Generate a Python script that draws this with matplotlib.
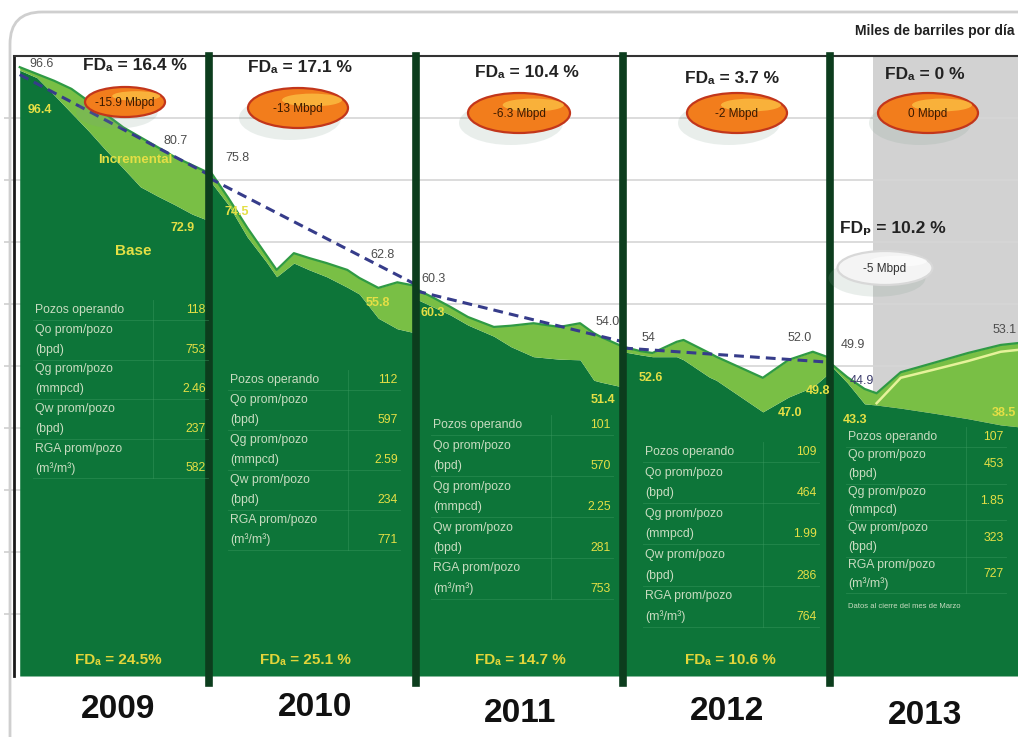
import matplotlib
matplotlib.use("Agg")
import matplotlib.pyplot as plt
import numpy as np
from matplotlib.patches import Ellipse, FancyBboxPatch

plt.rcParams['font.family'] = ['Liberation Sans', 'DejaVu Sans']

# ---- data (x in months from Jan-2009, y in miles de barriles por día) ----
YEARS = ["2009", "2010", "2011", "2012", "2013"]
YEAR_EDGES = [12, 24, 36, 48]

X_2009 = [1, 2, 3, 4, 5, 6, 7, 8, 9, 10, 11, 12]
TOP_2009 = [98.2, 97.1, 96.0, 94.7, 92.7, 90.6, 88.5, 86.9, 85.3, 83.7, 82.4, 81.1]
BASE_2009 = [97.7, 96.5, 93.7, 90.8, 87.9, 84.8, 81.9, 78.9, 77.4, 76.0, 74.5, 73.4]

X_2010 = [12.0, 13.1, 14.2, 15.3, 15.9, 16.9, 17.8, 18.8, 20.0, 20.7, 21.8, 22.9, 24.0]
TOP_2010 = [81.6, 77.1, 72.3, 67.9, 65.5, 68.2, 67.4, 66.6, 65.5, 64.2, 62.6, 63.5, 62.9]
BASE_2010 = [80.0, 76.0, 70.8, 66.8, 64.4, 66.6, 65.5, 64.4, 62.7, 61.6, 57.7, 56.0, 55.3]

X_2011 = [24, 25, 26, 27, 28.5, 29.5, 30.8, 32.3, 33.5, 34.3, 34.7, 36]
TOP_2011 = [62.4, 61.0, 59.5, 57.9, 56.3, 56.5, 56.9, 56.3, 56.9, 55.3, 54.7, 53.1]
BASE_2011 = [60.8, 59.5, 58.2, 56.6, 54.8, 53.1, 51.5, 51.1, 51.0, 47.7, 47.4, 46.6]

X_2012 = [36, 37, 37.7, 39.1, 39.5, 41.0, 41.4, 44.1, 45.6, 47.0, 48.0]
TOP_2012 = [53.1, 52.4, 52.1, 53.9, 54.2, 52.1, 51.5, 48.1, 51.0, 52.3, 51.3]
BASE_2012 = [52.3, 51.8, 51.5, 51.5, 51.0, 48.2, 47.7, 42.6, 45.0, 46.6, 49.0]

X_2013 = [48.0, 49.0, 50.0, 50.7, 52.1, 54.0, 56.0, 57.9, 58.9]
TOP_2013 = [50.5, 48.2, 46.3, 45.6, 49.0, 50.5, 52.1, 53.4, 53.7]
BASE_2013 = [50.2, 47.3, 43.9, 43.7, 43.2, 42.4, 41.5, 40.5, 40.2]
X_PROG_2013 = [50.7, 52.1, 54.0, 56.0, 57.9, 58.9]
PROG_2013 = [44.0, 48.1, 49.4, 50.8, 52.3, 52.6]

# trend (dashed) start/end per year
TREND_X = [[1, 12], [12, 24], [24, 36], [36, 48]]
TREND_Y = [[97.0, 80.8], [80.3, 63.1], [62.1, 53.9], [52.9, 50.6]]
FORECAST_START = 50.5

FD_TOP = ["FDₐ = 16.4 %", "FDₐ = 17.1 %", "FDₐ = 10.4 %", "FDₐ = 3.7 %", "FDₐ = 0 %"]
MBPD = ["-15.9 Mbpd", "-13 Mbpd", "-6.3 Mbpd", "-2 Mbpd", "0 Mbpd"]
FD_BOTTOM = ["FDₐ = 24.5%", "FDₐ = 25.1 %", "FDₐ = 14.7 %", "FDₐ = 10.6 %"]

ROW_LABELS = ["Pozos operando", "Qo prom/pozo", "(bpd)", "Qg prom/pozo", "(mmpcd)",
              "Qw prom/pozo", "(bpd)", "RGA prom/pozo", "(m³/m³)"]
TABLE_VALUES = [["118", "753", "2.46", "237", "582"],
                ["112", "597", "2.59", "234", "771"],
                ["101", "570", "2.25", "281", "753"],
                ["109", "464", "1.99", "286", "764"],
                ["107", "453", "1.85", "323", "727"]]

DARK = "#0d7539"
LIGHT = "#79bf45"
EDGE = "#2f9a44"
YEL = "#e4df45"
GREYTXT = "#4d4d4d"

fig = plt.figure(figsize=(10.18, 7.37), dpi=100)
ax = fig.add_axes([14 / 1018, 61 / 737, 1004 / 1018, 620 / 737])
ax.set_xlim(0.668, 58.9)
ax.set_ylim(0, 100)
ax.set_axisbelow(True)
ax.grid(axis="y", color="#d6d6d6", lw=1.2)
ax.set_yticks(np.arange(10, 100, 10))
ax.tick_params(axis="y", direction="out", length=7, color="#cfcfcf", width=1.2, labelleft=False)
ax.set_xticks([])
for s in ["right", "bottom"]:
    ax.spines[s].set_visible(False)
ax.spines["top"].set_color("#333333"); ax.spines["top"].set_linewidth(1.5)
ax.spines["left"].set_color("#1a1a1a"); ax.spines["left"].set_linewidth(2)

ax.axvspan(FORECAST_START, 60, color="#d2d2d2", zorder=0.2, lw=0)

series = [(X_2009, BASE_2009, TOP_2009), (X_2010, BASE_2010, TOP_2010),
          (X_2011, BASE_2011, TOP_2011), (X_2012, BASE_2012, TOP_2012),
          (X_2013, BASE_2013, TOP_2013)]
for xs, base, top in series:
    ax.fill_between(xs, 0, base, color=DARK, lw=0, zorder=2)
    ax.fill_between(xs, base, top, color=LIGHT, lw=0, zorder=2)
    ax.plot(xs, top, color=EDGE, lw=1.6, zorder=3)
ax.plot(X_PROG_2013, PROG_2013, color="#e6f29a", lw=1.8, zorder=3)

for tx, ty in zip(TREND_X, TREND_Y):
    ax.plot(tx, ty, color="#363c8a", lw=2.2, dashes=(3.2, 2.0), zorder=4)

for e in YEAR_EDGES:
    ax.axvline(e, ymin=-0.012, ymax=1.0, color="#0c3d1d", lw=5.5, zorder=5, clip_on=False)

# ---- overlay in pixel coordinates for annotations ----
ov = fig.add_axes([0, 0, 1, 1])
ov.set_xlim(0, 1018); ov.set_ylim(737, 0); ov.axis("off")

ov.add_patch(FancyBboxPatch((10, 12), 1100, 800, boxstyle="round,pad=0,rounding_size=32",
                            fc="none", ec="#cfcfcf", lw=2))
ov.text(1015, 31, "Miles de barriles por día", ha="right", va="center",
        fontsize=10, fontweight="bold", color="#222222")


def pill(cx, cy, w, h, text, face, edge, hi, tc):
    ov.add_patch(Ellipse((cx - 8, cy + 10), w * 1.02, h * 1.1, color="#7f9e8e", alpha=0.17, lw=0))
    ov.add_patch(Ellipse((cx, cy), w, h, fc=face, ec=edge, lw=1.6))
    ov.add_patch(Ellipse((cx + w * 0.14, cy - h * 0.2), w * 0.6, h * 0.32, fc=hi, alpha=0.6, lw=0))
    ov.text(cx, cy + 1, text, ha="center", va="center", fontsize=8.5, color=tc)


fd_pos = [(135, 65), (300, 67), (527, 72), (732, 78), (925, 74)]
pill_pos = [(125, 102, 80, 30), (298, 108, 100, 40), (519, 113, 102, 40),
            (737, 113, 100, 40), (928, 113, 100, 40)]
for (x, y), t in zip(fd_pos, FD_TOP):
    ov.text(x, y, t, ha="center", va="center", fontsize=12.5, fontweight="bold", color="#222222")
for (x, y, w, h), t in zip(pill_pos, MBPD):
    pill(x, y, w, h, t, "#f27d1c", "#c2361b", "#ffd54f", "#3a1a00")

ov.text(893, 228, "FDₚ = 10.2 %", ha="center", va="center", fontsize=12.5, fontweight="bold",
        color="#222222")
pill(885, 268, 95, 34, "-5 Mbpd", "#f4f4f4", "#d8d8d8", "#ffffff", "#333333")

grey_labels = [("96.6", 42, 64), ("80.7", 176, 141), ("75.8", 237, 158), ("62.8", 383, 255),
               ("60.3", 434, 279), ("54.0", 608, 322), ("54", 648, 338), ("52.0", 800, 338),
               ("49.9", 853, 345), ("53.1", 1005, 330)]
for t, x, y in grey_labels:
    ov.text(x, y, t, ha="center", va="center", fontsize=9, color=GREYTXT, zorder=6)
ov.text(862, 381, "44.9", ha="center", va="center", fontsize=9, color="#3b3b6b", zorder=6)

yel_labels = [("96.4", 40, 110), ("72.9", 183, 228), ("74.5", 237, 212), ("55.8", 378, 303),
              ("60.3", 433, 313), ("51.4", 603, 400), ("52.6", 651, 378), ("47.0", 790, 413),
              ("49.8", 818, 391), ("43.3", 855, 420)]
for t, x, y in yel_labels:
    ov.text(x, y, t, ha="center", va="center", fontsize=9, fontweight="bold", color=YEL, zorder=6)
ov.text(1016, 413, "38.5", ha="right", va="center", fontsize=9, fontweight="bold", color=YEL, zorder=6)
ov.text(135, 160, "Incremental", ha="center", va="center", fontsize=9.5, fontweight="bold", color=YEL)
ov.text(133, 251, "Base", ha="center", va="center", fontsize=11, fontweight="bold", color=YEL)

# tables: (label x, value right x, first line y, line step, values centred between lines)
table_geom = [(35, 206, 310, 19.8, False), (230, 398, 380, 20.0, False),
              (433, 611, 425, 20.5, False), (645, 817, 452, 20.6, False),
              (848, 1004, 437, 18.3, True)]
for (lx, vx, y0, st, mid), vals in zip(table_geom, TABLE_VALUES):
    for i, lab in enumerate(ROW_LABELS):
        ov.text(lx, y0 + i * st, lab, ha="left", va="center", fontsize=8.8, color="#c8dcc0")
    for j, v in enumerate(vals):
        line = 0 if j == 0 else 2 * j
        yy = y0 + line * st - (st / 2 if (mid and j > 0) else 0)
        ov.text(vx, yy, v, ha="right", va="center", fontsize=8.8, color=YEL)
    for k in [0, 2, 4, 6, 8]:
        yl = y0 + k * st + 10
        ov.plot([lx - 2, vx + 2], [yl, yl], color="#3c9a60", lw=0.6, alpha=0.5)
    ov.plot([lx + 118, lx + 118], [y0 - 10, y0 + 8 * st + 10], color="#3c9a60", lw=0.6, alpha=0.5)
ov.text(848, 607, "Datos al cierre del mes de Marzo", ha="left", va="center", fontsize=5.5,
        color="#c8dcc0")

for x, t in zip([118, 305, 520, 730], FD_BOTTOM):
    ov.text(x, 660, t, ha="center", va="center", fontsize=11, fontweight="bold", color="#e2d53a")

for (x, y), t in zip([(118, 710), (315, 708), (520, 714), (727, 712), (925, 716)], YEARS):
    ov.text(x, y, t, ha="center", va="center", fontsize=24, fontweight="bold", color="#111111")

fig.savefig("out.png", dpi=100)
